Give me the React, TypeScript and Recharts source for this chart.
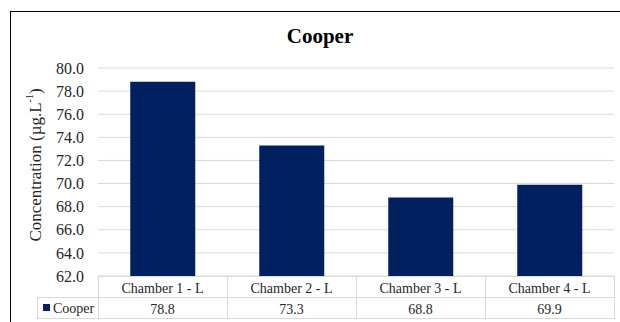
import React from 'react';
import { BarChart, Bar, XAxis, YAxis, CartesianGrid, Legend } from 'recharts';

// Cooper concentration per chamber
const chambers = ['Chamber 1 - L', 'Chamber 2 - L', 'Chamber 3 - L', 'Chamber 4 - L'];
const cooper = [78.8, 73.3, 68.8, 69.9];
const yTicks = [62, 64, 66, 68, 70, 72, 74, 76, 78, 80];

const data = chambers.map((name, i) => ({ name, Cooper: cooper[i] }));

const W = 620;
const H = 322;
const PLOT_LEFT = 98;
const PLOT_RIGHT = 614;
const ROW_H = 21;
const CELL_W = (PLOT_RIGHT - PLOT_LEFT) / chambers.length;
const FONT = 'Liberation Serif, DejaVu Serif, serif';
const BAR_COLOR = '#002060';
const LINE = '#d9d9d9';
const TEXT = '#262626';

const txt = (size: number, extra: React.CSSProperties = {}): React.CSSProperties => ({
  fontFamily: FONT,
  fontSize: size,
  ...extra,
});

// x axis drawn as a data table: category row + value row
const TableTick = (props: any) => {
  const { x, y, payload, index } = props;
  const left = Math.round(x - CELL_W / 2) + 0.5;
  const top = Math.round(y) + 0.5;
  return (
    <g>
      <rect x={left} y={top} width={CELL_W} height={ROW_H} fill="#fff" stroke={LINE} />
      <rect x={left} y={top + ROW_H} width={CELL_W} height={ROW_H} fill="#fff" stroke={LINE} />
      <text x={x} y={top + 16} textAnchor="middle" style={txt(14)} fill={TEXT}>
        {payload.value}
      </text>
      <text x={x} y={top + ROW_H + 16} textAnchor="middle" style={txt(14)} fill={TEXT}>
        {data[index].Cooper.toFixed(1)}
      </text>
    </g>
  );
};

// legend key sits in the first column of the value row
const TableLegend = (props: any) => {
  const item = (props.payload || [])[0];
  if (!item) return null;
  return (
    <svg width={62} height={22} style={{ display: 'block' }}>
      <rect x={0.5} y={0.5} width={61} height={ROW_H} fill="#fff" stroke={LINE} />
      <rect x={6} y={7} width={7} height={7} fill={item.color} />
      <text x={16} y={16} style={txt(14)} fill={TEXT}>
        {item.value}
      </text>
    </svg>
  );
};

export default function App() {
  return (
    <div style={{ position: 'absolute', left: 0, top: 0, width: W, height: H, overflow: 'hidden', background: '#fff', fontFamily: FONT }}>
      <div
        style={{
          position: 'absolute',
          left: 10,
          top: 11,
          width: W,
          height: H,
          borderLeft: '1px solid #000',
          borderTop: '1px solid #000',
        }}
      />
      <BarChart
        width={W}
        height={H}
        data={data}
        margin={{ top: 68, right: W - PLOT_RIGHT, bottom: 0, left: 0 }}
        barCategoryGap="25%"
        style={{ position: 'absolute', left: 0, top: 0 }}
      >
        <text x={320} y={43} textAnchor="middle" style={txt(21, { fontWeight: 'bold' })} fill="#000">
          Cooper
        </text>
        <text
          x={35}
          y={165}
          transform="rotate(-90 35 165)"
          textAnchor="middle"
          dominantBaseline="central"
          style={txt(17)}
          fill={TEXT}
        >
          Concentration (µg.L<tspan dy={-6} fontSize={10}>-1</tspan>
          <tspan dy={6}>)</tspan>
        </text>
        <CartesianGrid vertical={false} stroke={LINE} strokeWidth={1} />
        <YAxis
          width={PLOT_LEFT}
          domain={[62, 80]}
          ticks={yTicks}
          interval={0}
          axisLine={false}
          tickLine={false}
          tickSize={0}
          tickMargin={14}
          tickFormatter={(v: number) => v.toFixed(1)}
          tick={{ style: txt(16), fill: TEXT }}
        />
        <XAxis
          dataKey="name"
          height={H - 276}
          axisLine={false}
          tickLine={false}
          tickSize={0}
          tickMargin={0}
          interval={0}
          tick={<TableTick />}
        />
        <Legend
          layout="horizontal"
          verticalAlign="middle"
          align="center"
          content={<TableLegend />}
          wrapperStyle={{ position: 'absolute', left: 37, top: 297, width: 62, height: 22 }}
        />
        <Bar dataKey="Cooper" fill={BAR_COLOR} isAnimationActive={false} />
      </BarChart>
    </div>
  );
}
